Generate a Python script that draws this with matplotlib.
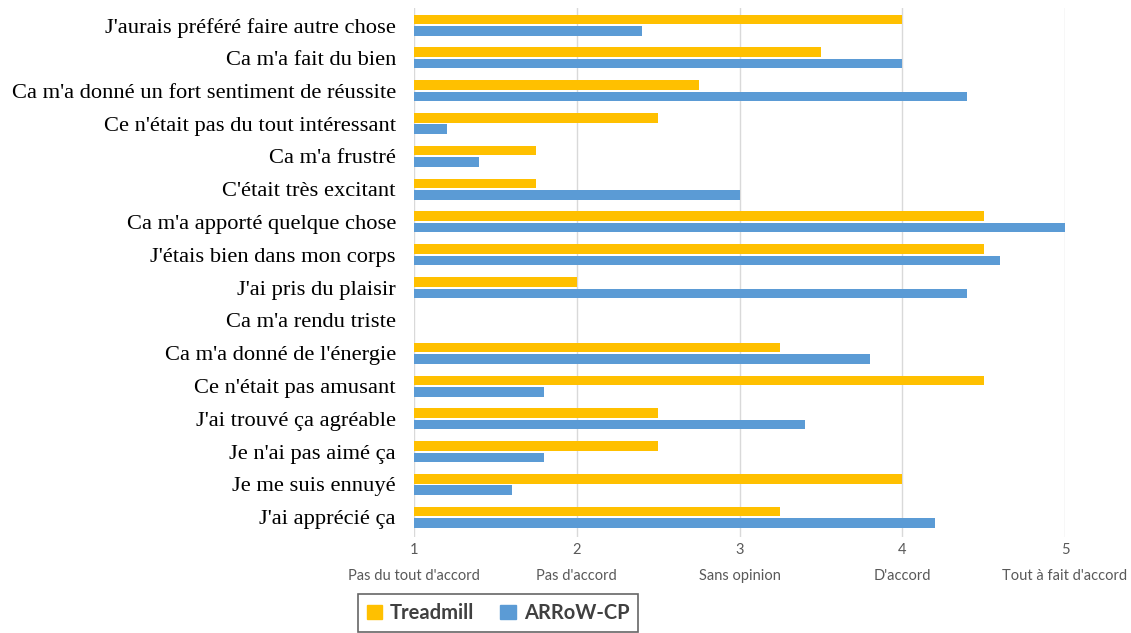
import matplotlib
matplotlib.use("Agg")
import matplotlib.pyplot as plt
from matplotlib.patches import Patch
import numpy as np

categories = [
    "J'aurais préféré faire autre chose",
    "Ca m'a fait du bien",
    "Ca m'a donné un fort sentiment de réussite",
    "Ce n'était pas du tout intéressant",
    "Ca m'a frustré",
    "C'était très excitant",
    "Ca m'a apporté quelque chose",
    "J'étais bien dans mon corps",
    "J'ai pris du plaisir",
    "Ca m'a rendu triste",
    "Ca m'a donné de l'énergie",
    "Ce n'était pas amusant",
    "J'ai trouvé ça agréable",
    "Je n'ai pas aimé ça",
    "Je me suis ennuyé",
    "J'ai apprécié ça",
]
treadmill = [4.0, 3.5, 2.75, 2.5, 1.75, 1.75, 4.5, 4.5, 2.0, np.nan, 3.25, 4.5, 2.5, 2.5, 4.0, 3.25]
arrow_cp = [2.4, 4.0, 4.4, 1.2, 1.4, 3.0, 5.0, 4.6, 4.4, np.nan, 3.8, 1.8, 3.4, 1.8, 1.6, 4.2]
tick_values = [1, 2, 3, 4, 5]
tick_names = ["Pas du tout d'accord", "Pas d'accord", "Sans opinion", "D'accord", "Tout à fait d'accord"]
series_names = ["Treadmill", "ARRoW-CP"]

yellow = "#FFC000"
blue = "#5B9BD5"

fig = plt.figure(figsize=(11.31, 6.33), dpi=100)
ax = fig.add_axes([414/1131, 1-537/633, (1065-414)/1131, (537-8)/633])

y = np.arange(len(categories))
h = 0.29
off = 0.175
ax.barh(y - off, treadmill, height=h, color=yellow, zorder=3)
ax.barh(y + off, arrow_cp, height=h, color=blue, zorder=3)

ax.set_xlim(1, 5)
ax.set_ylim(15.6, -0.52)
ax.set_yticks(y)
ax.set_yticklabels(categories, family="Liberation Serif", fontsize=16.2, color="#000000")
ax.set_xticks(tick_values)
ax.set_xticklabels([f"{v}\n{n}" for v, n in zip(tick_values, tick_names)],
                   family="Lato", fontsize=10.5, color="#595959", linespacing=2.1)
ax.tick_params(axis="y", length=0, pad=13)
ax.tick_params(axis="x", length=0, pad=4)
ax.grid(axis="x", color="#D9D9D9", linewidth=1, zorder=0)
for s in ax.spines.values():
    s.set_visible(False)

handles = [Patch(color=yellow), Patch(color=blue)]
leg = fig.legend(handles, series_names, loc="center", bbox_to_anchor=(498/1131, 1-613/633),
                 ncol=2, frameon=True, fancybox=False, handlelength=0.75, handleheight=0.75,
                 handletextpad=0.4, columnspacing=1.3, borderpad=0.45, borderaxespad=0,
                 prop={"family": "Lato", "weight": "bold", "size": 14.5})
leg.get_frame().set_edgecolor("#404040")
leg.get_frame().set_linewidth(1.2)
for t in leg.get_texts():
    t.set_color("#404040")

fig.savefig("out.png", dpi=100)
